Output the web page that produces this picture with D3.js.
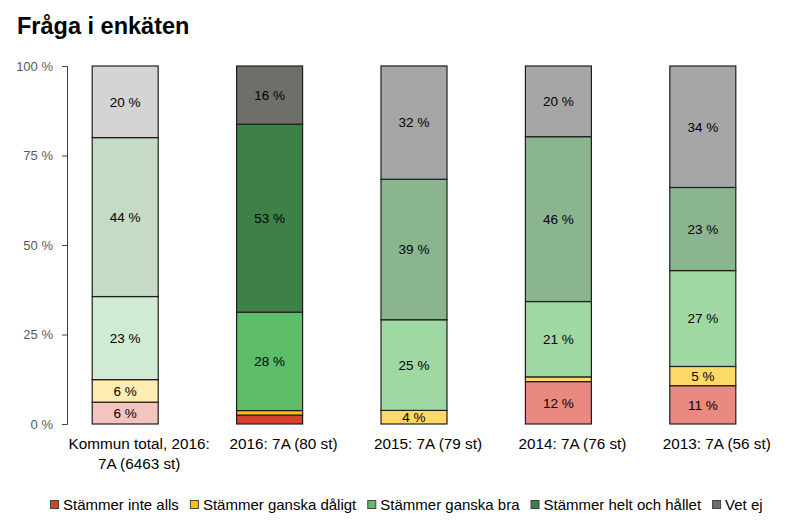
<!DOCTYPE html>
<html>
<head>
<meta charset="utf-8">
<script src="https://cdn.jsdelivr.net/npm/d3@7"></script>
<style>
  html, body { margin: 0; padding: 0; background: #fff; }
  svg { display: block; font-family: "Liberation Sans", Arial, sans-serif; }
</style>
</head>
<body>
<svg id="chart" width="788" height="522"></svg>
<script>
// ---- data ----
const title = "Fråga i enkäten";
const categories = [
  "Kommun total, 2016: 7A (6463 st)",
  "2016: 7A (80 st)",
  "2015: 7A (79 st)",
  "2014: 7A (76 st)",
  "2013: 7A (56 st)"
];
const categoryLines = [
  ["Kommun total, 2016:", "7A (6463 st)"],
  ["2016: 7A (80 st)"],
  ["2015: 7A (79 st)"],
  ["2014: 7A (76 st)"],
  ["2013: 7A (56 st)"]
];
const seriesNames = ["Stämmer inte alls", "Stämmer ganska dåligt", "Stämmer ganska bra", "Stämmer helt och hållet", "Vet ej"];
const inteAlls      = [6.1, 2.5, 0.0, 11.84, 10.71];
const ganskaDaligt  = [6.3, 1.25, 3.80, 1.32, 5.36];
const ganskaBra     = [23.2, 27.5, 25.32, 21.05, 26.79];
const heltOchHallet = [44.4, 52.5, 39.24, 46.05, 23.21];
const vetEj         = [20.0, 16.25, 31.65, 19.74, 33.93];
const yTicks = [0, 25, 50, 75, 100];

// ---- styles ----
const strongColors = ["#d9402e", "#ffc000", "#5dbd6a", "#3d8149", "#6f6f69"];
const mediumColors = ["#e88a80", "#ffd966", "#a0d8a4", "#8bb58e", "#a6a6a6"];
const paleColors   = ["#f4c4bf", "#ffecb3", "#d0ebd4", "#c5dbc6", "#d4d4d4"];
const barPalettes  = [paleColors, strongColors, mediumColors, mediumColors, mediumColors];

const seriesValues = [inteAlls, ganskaDaligt, ganskaBra, heltOchHallet, vetEj];
const rows = categories.map((c, i) => {
  const r = { category: c, index: i };
  seriesNames.forEach((s, k) => r[s] = seriesValues[k][i]);
  return r;
});

const svg = d3.select("#chart");
const margin = { top: 66, bottom: 424, left: 67 };

const x = d3.scaleBand().domain(categories).range([53, 775]).paddingInner(0.543).paddingOuter(0.2715);
const y = d3.scaleLinear().domain([0, 100]).range([margin.bottom, margin.top]);

// title
svg.append("text").attr("x", 17).attr("y", 34)
  .attr("font-size", 23.5).attr("font-weight", "bold").attr("fill", "#000")
  .text(title);

// y axis
const yAxis = d3.axisLeft(y).tickValues(yTicks).tickFormat(d => d + " %").tickSize(5).tickSizeOuter(5).tickPadding(9);
const gy = svg.append("g").attr("transform", `translate(${margin.left},0)`).call(yAxis);
gy.select(".domain").attr("stroke", "#404040");
gy.selectAll(".tick line").attr("stroke", "#404040");
gy.selectAll(".tick text").attr("font-size", 13).attr("fill", "#595959")
  .attr("font-family", "'Liberation Sans', Arial, sans-serif");

// stacks
const stack = d3.stack().keys(seriesNames);
const stacked = stack(rows);

const gBars = svg.append("g");
stacked.forEach((layer, k) => {
  layer.forEach((d, i) => {
    const h = y(d[0]) - y(d[1]);
    if (h <= 0) return;
    gBars.append("rect")
      .attr("x", x(categories[i]))
      .attr("y", y(d[1]))
      .attr("width", x.bandwidth())
      .attr("height", h)
      .attr("fill", barPalettes[i][k])
      .attr("stroke", "#1e1e1e")
      .attr("stroke-width", 1.2);
  });
});
// labels
stacked.forEach((layer, k) => {
  layer.forEach((d, i) => {
    const v = d[1] - d[0];
    if (v < 3) return;
    gBars.append("text")
      .attr("x", x(categories[i]) + x.bandwidth() / 2)
      .attr("y", (y(d[0]) + y(d[1])) / 2)
      .attr("dy", "0.36em")
      .attr("text-anchor", "middle")
      .attr("font-size", 13.5)
      .attr("fill", "#000")
      .text(Math.round(v) + " %");
  });
});

// x labels (centred slightly right of the bar, as in the source)
const gx = svg.append("g");
categories.forEach((c, i) => {
  const cx = x(c) + x.bandwidth() / 2 + 14;
  const t = gx.append("text")
    .attr("x", cx)
    .attr("y", 449)
    .attr("text-anchor", "middle")
    .attr("font-size", 15.3)
    .attr("fill", "#000");
  categoryLines[i].forEach((line, j) => {
    t.append("tspan").attr("x", cx).attr("dy", j === 0 ? 0 : 20).text(line);
  });
});

// legend
const gLeg = svg.append("g");
let lx = 50;
const ly = 505;
seriesNames.forEach((s, k) => {
  gLeg.append("rect").attr("x", lx + 0.5).attr("y", ly - 4.5).attr("width", 8).attr("height", 8)
    .attr("fill", strongColors[k]).attr("stroke", "#444").attr("stroke-width", 1);
  const t = gLeg.append("text").attr("x", lx + 13).attr("y", ly).attr("dy", "0.35em")
    .attr("font-size", 15).attr("fill", "#000").text(s);
  const w = t.node().getComputedTextLength();
  lx = lx + 13 + w + 11;
});
</script>
</body>
</html>
